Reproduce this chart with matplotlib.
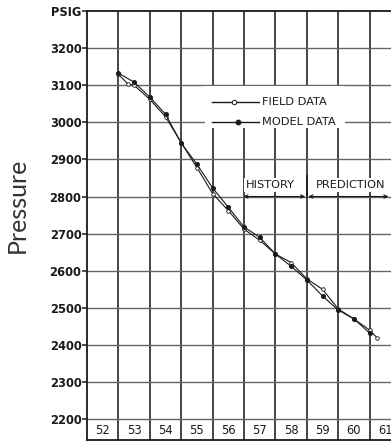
import matplotlib
matplotlib.use("Agg")
import matplotlib.pyplot as plt
from matplotlib.patches import Rectangle
from matplotlib.lines import Line2D

# Reservoir pressure history match (PSIG) versus year
field_years = [53.0, 53.3, 53.5, 54.0, 54.5, 55.0, 55.5, 56.0, 56.5, 57.0,
               57.5, 58.0, 58.5, 59.0, 59.5, 60.0, 60.5, 61.0, 61.25]
field_psig = [3130, 3103, 3100, 3062, 3015, 2945, 2878, 2808, 2762, 2712,
              2682, 2645, 2622, 2578, 2550, 2497, 2470, 2440, 2418]

model_years = [53.0, 53.5, 54.0, 54.5, 55.0, 55.5, 56.0, 56.5, 57.0,
               57.5, 58.0, 58.5, 59.0, 59.5, 60.0, 60.5, 61.0]
model_psig = [3133, 3108, 3068, 3022, 2944, 2887, 2823, 2771, 2718,
              2690, 2645, 2612, 2575, 2532, 2494, 2470, 2432]

year_labels = ["52", "53", "54", "55", "56", "57", "58", "59", "60", "61"]
pressure_ticks = [2200, 2300, 2400, 2500, 2600, 2700, 2800, 2900, 3000, 3100, 3200, 3300]
pressure_labels = ["2200", "2300", "2400", "2500", "2600", "2700", "2800",
                   "2900", "3000", "3100", "3200", "PSIG"]

W, H = 391, 442
fig = plt.figure(figsize=(W / 100, H / 100), dpi=100)
left_px, right_px, top_px, bot_px = 87, 395, 11, 440
ax = fig.add_axes([left_px / W, 1 - bot_px / H, (right_px - left_px) / W, (bot_px - top_px) / H])

x0 = 52.0
xmax = x0 + (right_px - left_px) / 31.4
ax.set_xlim(x0, xmax)
ymin = 3300 - (bot_px - top_px) / 0.371
ax.set_ylim(ymin, 3300)

ink = "#1a1a1a"

# grid
for yr in range(53, 62):
    ax.axvline(yr, color="#262626", lw=1.2, zorder=1)
for p in pressure_ticks[:-1]:
    ax.axhline(p, color="#666666", lw=1.0, zorder=1)

for s in ["left", "top", "bottom"]:
    ax.spines[s].set_linewidth(1.3)
    ax.spines[s].set_color(ink)
ax.spines["right"].set_visible(False)

ax.set_xticks([])
ax.set_yticks(pressure_ticks)
ax.set_yticklabels(pressure_labels)
ax.tick_params(axis="y", length=3.5, width=1.1, pad=0.5, color=ink,
               labelsize=8.3, labelcolor=ink)
for lab in ax.get_yticklabels():
    lab.set_fontweight("semibold")

# year labels in the strip below 2200
for i, lab in enumerate(year_labels):
    ax.text(x0 + i + 0.5, 2169, lab, ha="center", va="center",
            fontsize=8.3, color=ink, zorder=3)

# data
ax.plot(field_years, field_psig, color=ink, lw=0.8, marker="o", ms=2.6,
        mfc="white", mec=ink, mew=0.6, zorder=4)
ax.plot(model_years, model_psig, color=ink, lw=0.8, marker="o", ms=2.6,
        mfc=ink, mec=ink, zorder=5)

# key
ax.add_patch(Rectangle((55.76, 2985), 4.46, 112, facecolor="white",
                       edgecolor="none", zorder=2))
ax.add_line(Line2D([55.98, 57.47], [3055, 3055], color=ink, lw=1.0, zorder=3))
ax.plot([56.67], [3055], marker="o", ms=3.2, mfc="white", mec=ink, mew=0.7, zorder=4)
ax.add_line(Line2D([55.98, 57.47], [3000, 3000], color=ink, lw=1.0, zorder=3))
ax.plot([56.8], [3000], marker="o", ms=3.2, mfc=ink, mec=ink, zorder=4)
ax.text(57.57, 3055, "FIELD DATA", ha="left", va="center", fontsize=8.2,
        color=ink, zorder=3)
ax.text(57.57, 3002, "MODEL DATA", ha="left", va="center", fontsize=8.2,
        color=ink, zorder=3)

# history / prediction annotation
box = dict(facecolor="white", edgecolor="none", pad=1.2)
ax.text(57.83, 2831, "HISTORY", ha="center", va="center", fontsize=8.2,
        color=ink, bbox=box, zorder=3)
ax.text(60.38, 2831, "PREDICTION", ha="center", va="center", fontsize=8.2,
        color=ink, bbox=box, zorder=3)
arrow = dict(arrowstyle="<->", color=ink, lw=0.8, mutation_scale=6,
             shrinkA=0, shrinkB=0)
ax.annotate("", xy=(56.98, 2800), xytext=(58.95, 2800), arrowprops=arrow, zorder=3)
ax.annotate("", xy=(59.05, 2800), xytext=(61.6, 2800), arrowprops=arrow, zorder=3)
ax.plot([59.0, 59.0], [2800, 2855], color=ink, lw=1.2, zorder=3)

fig.text(17 / W, 1 - 205 / H, "Pressure", rotation=90, ha="center", va="center",
         fontsize=18, family=["Lato", "DejaVu Sans"], color="#333333")

fig.savefig("out.png", dpi=100)
